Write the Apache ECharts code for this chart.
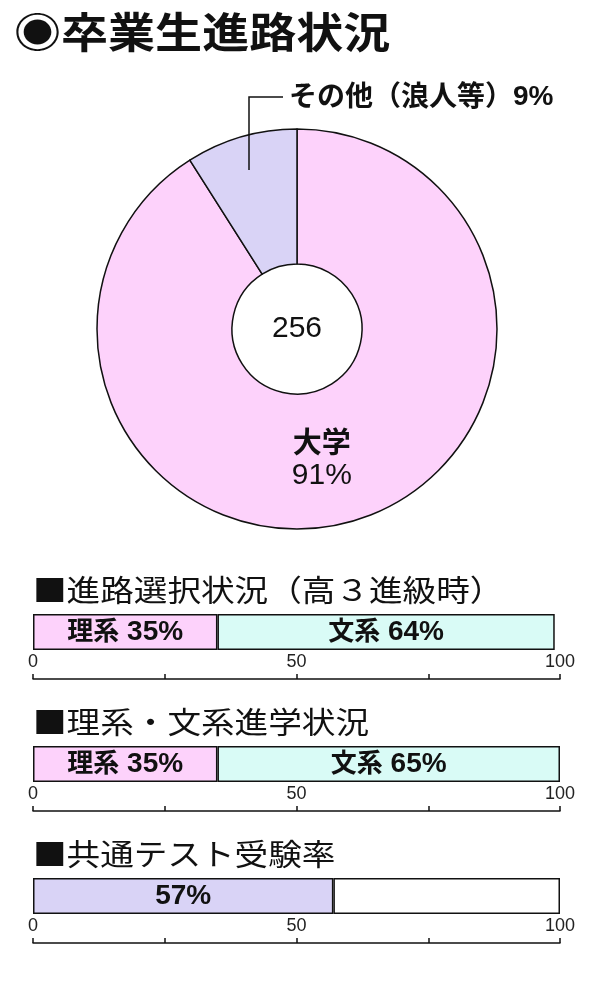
<!DOCTYPE html>
<html>
<head>
<meta charset="utf-8">
<script src="https://cdn.jsdelivr.net/npm/echarts@6/dist/echarts.min.js"></script>
<style>
  html, body { margin: 0; padding: 0; background: #fff; }
  #main { width: 600px; height: 1000px; }
</style>
</head>
<body>
<div id="main"></div>
<script>
// 卒業生進路状況
const totalGraduates = 256;
const pieNames = ['大学', 'その他（浪人等）'];
const pieValues = [91, 9];

// 進路選択状況（高3進級時） / 理系・文系進学状況
const courseNames = ['理系', '文系'];
const choiceValues = [35, 64];
const entryValues = [35, 65];

// 共通テスト受験率
const examTaken = [57];
const examRest = [43];

// 目盛
const axisLabels = ['0', '50', '100'];

const mainTitle = '◉卒業生進路状況';
const sectionTitles = ['■進路選択状況（高３進級時）', '■理系・文系進学状況', '■共通テスト受験率'];

const JP = '"Noto Sans CJK JP", sans-serif';
const LAT = '"Liberation Sans", Arial, sans-serif';
const pink = '#fdd2fb';
const cyan = '#d9fbf6';
const lilac = '#d9d3f6';
const ink = '#111';

const gridTops = [614, 746, 878];

const chart = echarts.init(document.getElementById('main'));

function barLabel(name, value) {
    if (name) return '{j|' + name + '}{n| ' + value + '%}';
    return '{n|' + value + '%}';
}

// 和文は数字より少し上げて揃える
const richText = {
    j: { fontFamily: JP, fontSize: 26, fontWeight: 'bold', color: ink, lineHeight: 25, verticalAlign: 'top' },
    n: { fontFamily: LAT, fontSize: 28, fontWeight: 'bold', color: ink, lineHeight: 30, verticalAlign: 'middle' }
};

function barSeries(gi, name, values, color, withLabel, showName) {
    return {
        type: 'bar',
        name: name,
        xAxisIndex: gi,
        yAxisIndex: gi,
        stack: 'total' + gi,
        data: values,
        barWidth: '100%',
        silent: true,
        itemStyle: { color: color, borderColor: ink, borderWidth: 1.5 },
        label: {
            show: withLabel,
            position: 'inside',
            formatter: function (p) { return barLabel(showName ? name : '', p.value); },
            rich: richText
        }
    };
}

const grids = gridTops.map(function (t) {
    return { left: 33, right: 40, top: t, height: 36 };
});

const xAxes = gridTops.map(function (t, i) {
    return {
        type: 'value',
        gridIndex: i,
        min: 0,
        max: 100,
        interval: 25,
        position: 'bottom',
        offset: 29,
        axisLine: { show: true, lineStyle: { color: ink, width: 1.5 } },
        axisTick: { show: true, inside: true, length: 5, lineStyle: { color: ink, width: 1.5 } },
        axisLabel: {
            inside: true,
            margin: 8,
            fontSize: 18,
            color: '#222',
            fontFamily: LAT,
            formatter: function (v) { return axisLabels.indexOf(String(v)) >= 0 ? String(v) : ''; }
        },
        splitLine: { show: false }
    };
});

const yAxes = gridTops.map(function (t, i) {
    return { type: 'category', gridIndex: i, data: [''], show: false };
});

// 見出し（元図は横長の書体なので少し横に伸ばす）
const headings = [{
    type: 'text',
    x: 14,
    y: 32,
    scaleX: 1.12,
    style: { text: mainTitle, fontFamily: JP, fontSize: 42, fontWeight: 'bold', fill: ink, verticalAlign: 'middle' }
}].concat(sectionTitles.map(function (s, i) {
    return {
        type: 'text',
        x: 33,
        y: gridTops[i] - 24,
        scaleX: 1.12,
        style: { text: s, fontFamily: JP, fontSize: 30, fill: ink, verticalAlign: 'middle' }
    };
}));

const option = {
    backgroundColor: '#fff',
    animation: false,
    grid: grids,
    xAxis: xAxes,
    yAxis: yAxes,
    graphic: headings.concat([
        {
            type: 'text',
            x: 297,
            y: 329,
            style: {
                text: String(totalGraduates),
                fontFamily: LAT,
                fontSize: 30,
                fill: ink,
                align: 'center',
                verticalAlign: 'middle'
            }
        },
        {
            // その他の引き出し線
            type: 'polyline',
            z: 100,
            shape: { points: [[249, 170], [249, 97], [283, 97]] },
            style: { fill: null, stroke: ink, lineWidth: 1.5 }
        }
    ]),
    series: [
        {
            type: 'pie',
            center: [297, 329],
            radius: [65, 200],
            startAngle: 90,
            clockwise: true,
            avoidLabelOverlap: false,
            silent: true,
            itemStyle: { borderColor: ink, borderWidth: 1.5 },
            labelLine: { show: false },
            labelLayout: function (p) {
                if (p.dataIndex === 1) {
                    return { x: 289, y: 97, align: 'left', verticalAlign: 'middle' };
                }
                return { dx: -13 };
            },
            data: [
                {
                    name: pieNames[0],
                    value: pieValues[0],
                    itemStyle: { color: pink },
                    label: {
                        show: true,
                        position: 'inside',
                        formatter: function (p) { return '{a|' + p.name + '}\n{b|' + p.value + '%}'; },
                        rich: {
                            a: { fontFamily: JP, fontSize: 29, fontWeight: 'bold', color: ink, lineHeight: 34, align: 'center' },
                            b: { fontFamily: LAT, fontSize: 30, color: ink, lineHeight: 34, align: 'center' }
                        }
                    }
                },
                {
                    name: pieNames[1],
                    value: pieValues[1],
                    itemStyle: { color: lilac },
                    label: {
                        show: true,
                        position: 'outside',
                        formatter: function (p) { return '{a|' + p.name + '}{b|' + p.value + '%}'; },
                        rich: {
                            a: { fontFamily: JP, fontSize: 28, fontWeight: 'bold', color: ink, lineHeight: 28, verticalAlign: 'top' },
                            b: { fontFamily: LAT, fontSize: 28, fontWeight: 'bold', color: ink, lineHeight: 32, verticalAlign: 'middle' }
                        }
                    }
                }
            ]
        },
        barSeries(0, courseNames[0], [choiceValues[0]], pink, true, true),
        barSeries(0, courseNames[1], [choiceValues[1]], cyan, true, true),
        barSeries(1, courseNames[0], [entryValues[0]], pink, true, true),
        barSeries(1, courseNames[1], [entryValues[1]], cyan, true, true),
        barSeries(2, '受験', examTaken, lilac, true, false),
        barSeries(2, '未受験', examRest, '#fff', false, false)
    ]
};

chart.setOption(option);
</script>
</body>
</html>
